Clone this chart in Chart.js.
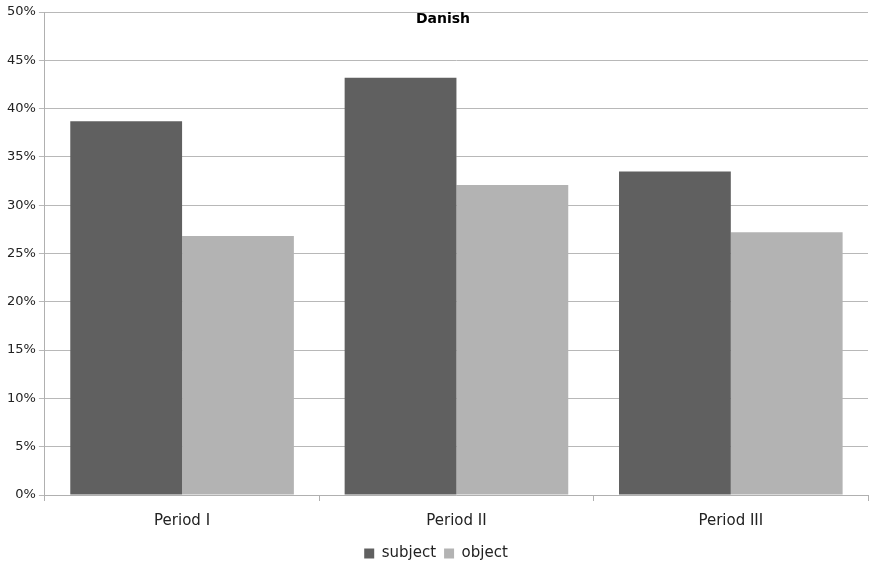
<!DOCTYPE html>
<html lang="en">
<head>
    <meta charset="UTF-8">
    <title>Danish</title>
    <script src="https://cdn.jsdelivr.net/npm/chart.js"></script>
    <style>
        body { margin: 0; background: #fff; }
        #chart-container { width: 870px; height: 568px; }
    </style>
</head>
<body>
    <div id="chart-container">
        <canvas id="myChart"></canvas>
    </div>
    <script>
        var categories = ['Period I', 'Period II', 'Period III'];
        var subjectValues = [38.7, 43.2, 33.5];
        var objectValues = [26.8, 32.1, 27.2];
        var titleText = 'Danish';

        // title sits inside the plot, over the top gridline
        var innerTitle = {
            id: 'innerTitle',
            afterDraw: function(chart) {
                var c = chart.ctx;
                c.save();
                c.font = 'bold 14px "DejaVu Sans"';
                c.fillStyle = '#000';
                c.textAlign = 'center';
                c.textBaseline = 'middle';
                c.fillText(titleText, chart.width / 2 + 8, chart.chartArea.top + 7);
                c.restore();
            }
        };

        var ctx = document.getElementById('myChart').getContext('2d');
        var myChart = new Chart(ctx, {
            type: 'bar',
            data: {
                labels: categories,
                datasets: [{
                    label: 'subject',
                    data: subjectValues,
                    backgroundColor: '#606060',
                    categoryPercentage: 0.815,
                    barPercentage: 1.0
                }, {
                    label: 'object',
                    data: objectValues,
                    backgroundColor: '#b3b3b3',
                    categoryPercentage: 0.815,
                    barPercentage: 1.0
                }]
            },
            options: {
                responsive: true,
                maintainAspectRatio: false,
                animation: false,
                layout: { padding: { top: 12, right: 2, left: 4, bottom: -3 } },
                plugins: {
                    title: { display: false },
                    tooltip: { enabled: false },
                    legend: {
                        position: 'bottom',
                        labels: {
                            boxWidth: 10,
                            boxHeight: 10,
                            padding: 8,
                            color: '#222',
                            font: { family: 'DejaVu Sans', size: 15 }
                        }
                    }
                },
                scales: {
                    x: {
                        afterFit: function(scale) { scale.height -= 3; },
                        grid: {
                            drawOnChartArea: false,
                            drawTicks: true,
                            tickLength: 6,
                            color: '#b0b0b0'
                        },
                        border: { color: '#b0b0b0' },
                        ticks: {
                            color: '#222',
                            padding: 11,
                            font: { family: 'DejaVu Sans', size: 15 }
                        }
                    },
                    y: {
                        min: 0,
                        max: 50,
                        grid: {
                            color: '#b8b8b8',
                            tickLength: 6
                        },
                        border: { color: '#b0b0b0' },
                        ticks: {
                            stepSize: 5,
                            color: '#222',
                            padding: 3,
                            font: { family: 'DejaVu Sans', size: 13 },
                            callback: function(v) { return v + '%'; }
                        }
                    }
                }
            },
            plugins: [innerTitle]
        });
    </script>
</body>
</html>
